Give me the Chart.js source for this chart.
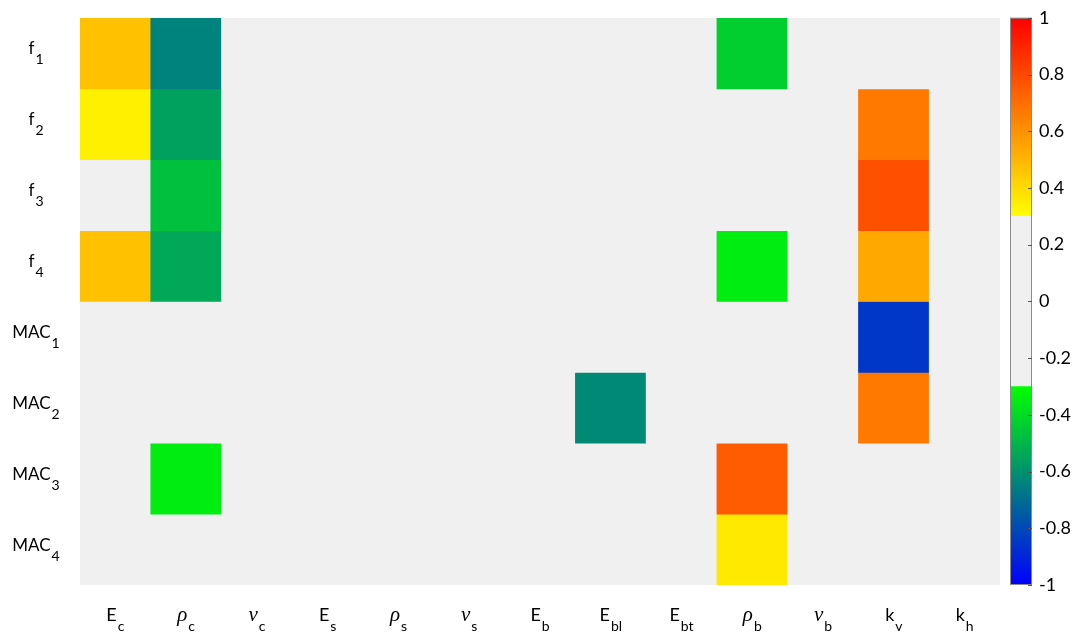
<!DOCTYPE html>
<html>
<head>
<meta charset="utf-8">
<script src="https://cdn.jsdelivr.net/npm/chart.js@4"></script>
<style>
  body { margin: 0; background: #fff; }
  #wrap { position: relative; width: 1081px; height: 635px; }
  #heatmap { position: absolute; left: 0; top: 0; }
  #colorbar { position: absolute; left: 1000px; top: 0; }
</style>
</head>
<body>
<div id="wrap">
  <canvas id="heatmap" width="1000" height="635"></canvas>
  <canvas id="colorbar" width="81" height="635"></canvas>
</div>
<script>
// columns (parameter symbol + subscript)
const colMain = ["E", "ρ", "ν", "E", "ρ", "ν", "E", "E", "E", "ρ", "ν", "k", "k"];
const colSub = ["c", "c", "c", "s", "s", "s", "b", "bl", "bt", "b", "b", "v", "h"];

// rows
const rowMain = ["f", "f", "f", "f", "MAC", "MAC", "MAC", "MAC"];
const rowSub = ["1", "2", "3", "4", "1", "2", "3", "4"];

// correlation values, one list per row (Ec ... kh)
const f1 = [0.47, -0.64, 0, 0, 0, 0, 0, 0, 0, -0.43, 0, 0, 0];
const f2 = [0.34, -0.56, 0, 0, 0, 0, 0, 0, 0, 0, 0, 0.67, 0];
const f3 = [0, -0.47, 0, 0, 0, 0, 0, 0, 0, 0, 0, 0.78, 0];
const f4 = [0.47, -0.54, 0, 0, 0, 0, 0, 0, 0, -0.35, 0, 0.54, 0];
const mac1 = [0, 0, 0, 0, 0, 0, 0, 0, 0, 0, 0, -0.85, 0];
const mac2 = [0, 0, 0, 0, 0, 0, 0, -0.62, 0, 0, 0, 0.67, 0];
const mac3 = [0, -0.35, 0, 0, 0, 0, 0, 0, 0, 0.75, 0, 0, 0];
const mac4 = [0, 0, 0, 0, 0, 0, 0, 0, 0, 0.36, 0, 0, 0];
const rowValues = [f1, f2, f3, f4, mac1, mac2, mac3, mac4];

// colorbar ticks
const cbTicks = [-1, -0.8, -0.6, -0.4, -0.2, 0, 0.2, 0.4, 0.6, 0.8, 1];
const threshold = 0.3;

const GRAY = "#f0f0f0";
const labelFont = "Lato, 'Open Sans', sans-serif";
const greek = ["ρ", "ν"];

// blue -> green below -0.3, gray inside, yellow -> red above 0.3
function colorFor(v) {
  if (v <= -threshold) {
    const t = (v + 1) / (1 - threshold);
    return `rgb(0, ${Math.round(255 * t)}, ${Math.round(255 * (1 - t))})`;
  }
  if (v >= threshold) {
    const s = (v - threshold) / (1 - threshold);
    return `rgb(255, ${Math.round(255 * (1 - s))}, 0)`;
  }
  return GRAY;
}

function drawSubLabel(ctx, main, sub, cx, baseY, mainSize, subSize) {
  const mainFont = greek.includes(main)
    ? `italic ${mainSize + 3}px 'Liberation Serif', serif`
    : `${mainSize}px ${labelFont}`;
  ctx.font = mainFont;
  const wm = ctx.measureText(main).width;
  ctx.font = `${subSize}px ${labelFont}`;
  const ws = ctx.measureText(sub).width;
  const start = cx - (wm + 1 + ws) / 2;
  ctx.textAlign = "left";
  ctx.textBaseline = "alphabetic";
  ctx.fillStyle = "#000";
  ctx.font = mainFont;
  ctx.fillText(main, start, baseY);
  ctx.font = `${subSize}px ${labelFont}`;
  ctx.fillText(sub, start + wm + 1, baseY + 10);
}

const heatmapLabels = {
  id: "heatmapLabels",
  beforeDraw(chart) {
    const { ctx, chartArea } = chart;
    ctx.save();
    ctx.fillStyle = GRAY;
    ctx.fillRect(chartArea.left, chartArea.top, chartArea.right - chartArea.left, chartArea.bottom - chartArea.top);
    ctx.restore();
  },
  afterDraw(chart) {
    const { ctx } = chart;
    const x = chart.scales.x;
    const y = chart.scales.y;
    ctx.save();
    colMain.forEach((m, j) => {
      drawSubLabel(ctx, m, colSub[j], x.getPixelForValue(j), 621, 18, 14);
    });
    rowMain.forEach((m, r) => {
      drawSubLabel(ctx, m, rowSub[r], 36, y.getPixelForValue(r + 0.5) + 1, 17, 14);
    });
    ctx.restore();
  },
};

const heatDatasets = rowValues.map((vals, r) => ({
  label: rowMain[r] + rowSub[r],
  data: vals.map(() => [r, r + 1]),
  backgroundColor: vals.map(colorFor),
  borderWidth: 0,
  barPercentage: 1,
  categoryPercentage: 1,
  grouped: false,
}));

new Chart(document.getElementById("heatmap"), {
  type: "bar",
  data: {
    labels: colMain.map((m, j) => m + colSub[j]),
    datasets: heatDatasets,
  },
  options: {
    responsive: false,
    animation: false,
    layout: { padding: { left: 80, right: 0, top: 18, bottom: 50 } },
    scales: {
      x: { display: false, offset: true },
      y: { display: false, min: 0, max: 8, reverse: true },
    },
    plugins: { legend: { display: false }, tooltip: { enabled: false } },
  },
  plugins: [heatmapLabels],
});

// colorbar
function segGradient(chart, lo, hi, cLo, cHi) {
  const y = chart.scales.y;
  if (!y || !chart.chartArea) return cLo;
  const g = chart.ctx.createLinearGradient(0, y.getPixelForValue(lo), 0, y.getPixelForValue(hi));
  g.addColorStop(0, cLo);
  g.addColorStop(1, cHi);
  return g;
}

const colorbarFrame = {
  id: "colorbarFrame",
  afterDraw(chart) {
    const { ctx, chartArea } = chart;
    const y = chart.scales.y;
    ctx.save();
    ctx.strokeStyle = "#8a8a8a";
    ctx.lineWidth = 1;
    ctx.strokeRect(chartArea.left + 0.5, chartArea.top + 0.5, chartArea.right - chartArea.left - 1, chartArea.bottom - chartArea.top - 1);
    ctx.strokeStyle = "#555";
    cbTicks.forEach((t) => {
      const py = Math.round(y.getPixelForValue(t)) + 0.5;
      ctx.beginPath();
      ctx.moveTo(chartArea.right - 4, py);
      ctx.lineTo(chartArea.right, py);
      ctx.stroke();
    });
    ctx.restore();
  },
};

new Chart(document.getElementById("colorbar"), {
  type: "bar",
  data: {
    labels: ["cb"],
    datasets: [
      {
        data: [[-1, -threshold]],
        backgroundColor: (c) => segGradient(c.chart, -1, -threshold, "rgb(0,0,255)", "rgb(0,255,0)"),
      },
      { data: [[-threshold, threshold]], backgroundColor: GRAY },
      {
        data: [[threshold, 1]],
        backgroundColor: (c) => segGradient(c.chart, threshold, 1, "rgb(255,255,0)", "rgb(255,0,0)"),
      },
    ].map((d) => ({ ...d, borderWidth: 0, barPercentage: 1, categoryPercentage: 1, grouped: false })),
  },
  options: {
    responsive: false,
    animation: false,
    layout: { padding: { left: 10, right: 0, top: 17, bottom: 50 } },
    scales: {
      x: { display: false },
      y: {
        position: "right",
        min: -1,
        max: 1,
        afterBuildTicks: (scale) => {
          scale.ticks = cbTicks.map((v) => ({ value: v }));
        },
        afterFit: (scale) => {
          scale.width = 49;
        },
        grid: { display: false, drawTicks: false },
        border: { display: false },
        ticks: {
          padding: 7,
          color: "#000",
          font: { family: labelFont, size: 18 },
          callback: (v) => String(Math.round(v * 10) / 10),
        },
      },
    },
    plugins: { legend: { display: false }, tooltip: { enabled: false } },
  },
  plugins: [colorbarFrame],
});
</script>
</body>
</html>
